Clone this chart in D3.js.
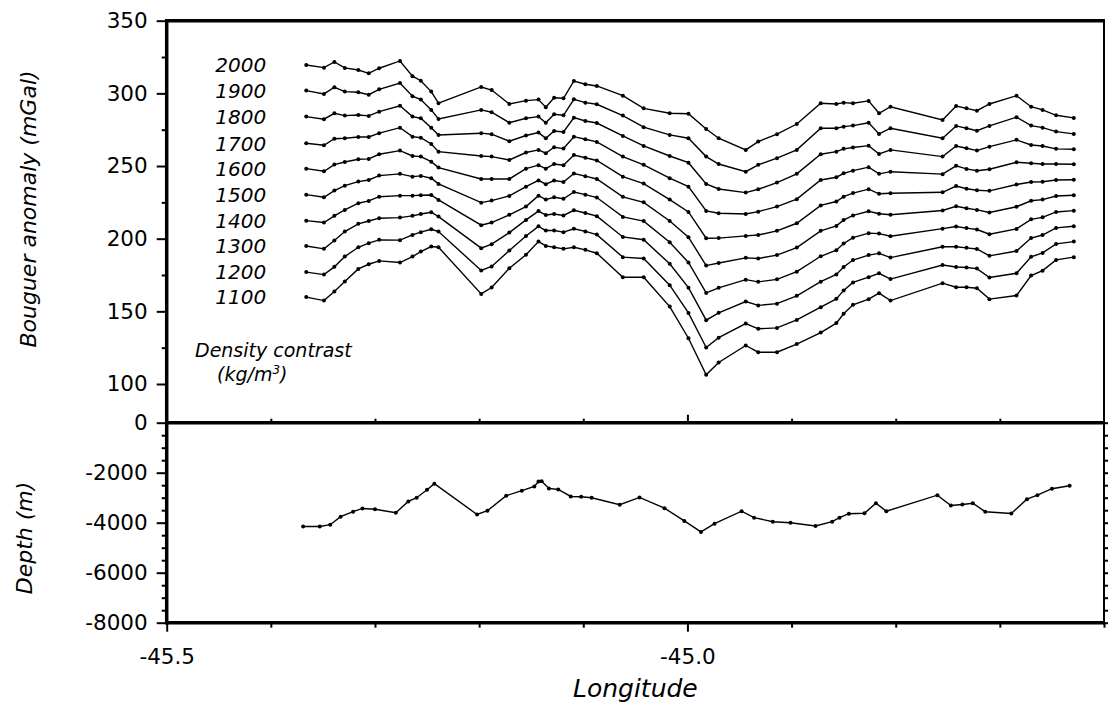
<!DOCTYPE html>
<html>
<head>
<meta charset="utf-8">
<script src="https://d3js.org/d3.v7.min.js"></script>
<style>
body { margin: 0; background: #fff; }
text { font-family: "DejaVu Sans", sans-serif; fill: #000; }
.tick line { stroke: #000; stroke-width: 2; }
</style>
</head>
<body>
<div id="chart"></div>
<script>
var width = 1108, height = 705;

// station longitudes of the gravity profiles
var lon = [-45.366, -45.349, -45.339, -45.329, -45.316, -45.306, -45.296, -45.276, -45.264, -45.256,
  -45.246, -45.239, -45.198, -45.188, -45.171, -45.155, -45.143, -45.136, -45.128, -45.119,
  -45.109, -45.098, -45.087, -45.062, -45.042, -45.017, -44.999, -44.982, -44.970, -44.944,
  -44.932, -44.914, -44.895, -44.872, -44.857, -44.850, -44.841, -44.826, -44.816, -44.805,
  -44.755, -44.742, -44.732, -44.722, -44.710, -44.684, -44.670, -44.659, -44.646, -44.629];

var ba2000 = [319.5, 317.7, 321.6, 317.5, 316.1, 313.8, 317.3, 322.3, 311.8, 308.7,
  301.2, 293.2, 304.4, 302.3, 292.7, 295.0, 295.7, 290.4, 297.0, 296.6,
  308.5, 306.3, 305.1, 298.4, 289.7, 286.3, 286.0, 275.5, 269.1, 261.1,
  266.8, 271.9, 278.9, 293.2, 292.7, 293.6, 293.2, 294.8, 286.3, 290.8,
  281.7, 291.3, 289.7, 288.1, 292.7, 298.4, 290.8, 288.6, 284.9, 283.1];
var ba1900 = [301.9, 299.6, 304.2, 301.2, 300.8, 299.1, 302.8, 307.1, 298.0, 295.7,
  288.6, 282.4, 288.6, 287.0, 279.8, 282.9, 284.0, 279.8, 285.6, 284.9,
  295.9, 293.6, 292.5, 284.7, 276.7, 271.4, 269.1, 256.5, 251.4, 246.1,
  250.8, 255.4, 261.1, 276.0, 276.0, 277.1, 277.8, 279.8, 272.1, 276.0,
  269.1, 277.6, 276.0, 274.3, 277.6, 283.6, 277.8, 276.4, 273.7, 272.1];
var ba1800 = [284.0, 282.2, 286.3, 284.7, 285.1, 284.5, 287.4, 291.5, 284.0, 282.9,
  276.4, 271.4, 272.6, 271.9, 267.1, 271.0, 273.0, 269.1, 274.1, 273.4,
  283.3, 281.0, 279.6, 270.7, 263.8, 256.9, 252.3, 237.7, 234.2, 231.7,
  234.0, 238.6, 244.6, 258.1, 259.9, 261.8, 262.7, 264.0, 258.3, 261.1,
  256.5, 263.8, 262.2, 260.6, 263.3, 268.0, 264.5, 263.8, 261.8, 261.5];
var ba1700 = [265.7, 264.3, 268.8, 269.1, 270.0, 270.0, 272.6, 276.4, 270.2, 269.5,
  265.2, 259.9, 256.9, 256.5, 254.2, 259.3, 261.1, 258.8, 262.9, 262.0,
  270.2, 268.4, 266.6, 256.5, 250.8, 241.6, 235.8, 219.1, 217.5, 217.0,
  218.6, 222.1, 227.2, 240.4, 242.3, 245.0, 246.8, 249.2, 244.6, 246.1,
  244.4, 250.1, 248.0, 246.8, 247.8, 252.6, 251.9, 251.4, 251.4, 251.2];
var ba1600 = [248.2, 246.4, 251.0, 252.8, 254.7, 254.9, 258.1, 260.6, 256.9, 256.5,
  253.0, 248.9, 241.1, 241.1, 241.1, 248.2, 250.6, 248.2, 251.4, 250.5,
  257.5, 255.7, 253.8, 242.7, 237.9, 226.9, 218.4, 200.3, 200.4, 201.9,
  202.5, 205.4, 210.6, 222.9, 225.6, 228.9, 231.4, 234.1, 230.9, 231.3,
  231.9, 236.2, 234.4, 233.3, 232.9, 237.3, 239.0, 239.2, 240.4, 240.6];
var ba1500 = [230.3, 228.5, 233.1, 236.5, 239.3, 240.4, 243.4, 244.6, 242.7, 243.2,
  241.6, 237.7, 224.8, 226.2, 229.4, 235.8, 240.1, 237.5, 240.0, 239.0,
  244.8, 243.0, 241.1, 228.8, 225.0, 212.2, 201.0, 181.5, 183.3, 186.8,
  186.4, 188.7, 193.9, 205.4, 208.8, 212.8, 216.0, 218.9, 217.2, 216.5,
  219.4, 222.3, 220.9, 219.8, 218.0, 222.0, 226.1, 226.9, 229.4, 229.9];
var ba1400 = [212.4, 211.1, 215.7, 219.8, 224.4, 226.0, 228.9, 229.6, 229.6, 229.9,
  230.1, 226.7, 209.3, 211.1, 216.4, 222.1, 229.6, 226.9, 228.5, 227.5,
  232.1, 230.3, 228.3, 215.0, 212.1, 197.5, 183.6, 162.7, 166.2, 171.8,
  170.3, 172.0, 177.3, 187.9, 192.1, 196.7, 200.7, 203.8, 203.5, 201.7,
  206.9, 208.4, 207.3, 206.3, 203.1, 206.7, 213.3, 214.7, 218.4, 219.3];
var ba1300 = [195.0, 193.0, 198.7, 204.9, 210.2, 212.2, 214.1, 214.5, 215.7, 217.0,
  218.2, 215.2, 193.5, 196.2, 204.2, 212.9, 219.0, 216.3, 217.0, 216.0,
  219.5, 217.7, 215.5, 201.2, 199.3, 182.7, 166.3, 143.9, 149.0, 156.7,
  154.1, 155.3, 160.7, 170.4, 175.4, 180.5, 185.3, 188.7, 189.9, 187.0,
  194.4, 194.4, 193.7, 192.9, 188.2, 191.5, 200.4, 202.5, 207.4, 208.6];
var ba1200 = [177.0, 175.3, 180.6, 187.7, 194.1, 196.9, 199.2, 199.0, 202.6, 204.5,
  206.5, 204.9, 178.1, 180.9, 191.8, 201.9, 208.5, 205.6, 205.6, 204.5,
  206.8, 205.0, 202.8, 187.3, 186.4, 168.0, 148.9, 125.1, 131.9, 141.6,
  138.0, 138.6, 144.1, 152.9, 158.6, 164.4, 169.9, 173.5, 176.2, 172.2,
  181.9, 180.5, 180.2, 179.4, 173.3, 176.2, 187.5, 190.2, 196.4, 198.0];
var ba1100 = [159.8, 157.4, 163.6, 170.5, 179.2, 182.4, 184.7, 183.6, 187.7, 191.1,
  194.6, 194.1, 162.0, 166.4, 179.7, 188.9, 198.0, 195.0, 194.1, 193.0,
  194.1, 192.3, 190.0, 173.5, 173.5, 153.3, 131.5, 106.3, 114.8, 126.5,
  121.9, 121.9, 127.5, 135.4, 141.9, 148.3, 154.5, 158.4, 162.5, 157.4,
  169.4, 166.6, 166.6, 165.9, 158.4, 160.9, 174.6, 178.0, 185.4, 187.3];

var densities = [2000, 1900, 1800, 1700, 1600, 1500, 1400, 1300, 1200, 1100];
var anomalies = [ba2000, ba1900, ba1800, ba1700, ba1600, ba1500, ba1400, ba1300, ba1200, ba1100];

// bathymetry profile
var depthLon = [-45.369, -45.353, -45.343, -45.333, -45.321, -45.312, -45.300, -45.280, -45.268, -45.260,
  -45.250, -45.243, -45.202, -45.192, -45.174, -45.159, -45.147, -45.143, -45.140, -45.133,
  -45.124, -45.112, -45.102, -45.092, -45.065, -45.046, -45.022, -45.003, -44.987, -44.974,
  -44.948, -44.936, -44.918, -44.901, -44.877, -44.861, -44.854, -44.845, -44.830, -44.819,
  -44.809, -44.760, -44.747, -44.736, -44.726, -44.714, -44.689, -44.674, -44.664, -44.650,
  -44.633];
var depth = [-4150, -4150, -4080, -3760, -3560, -3430, -3460, -3600, -3150, -3000,
  -2680, -2440, -3670, -3520, -2920, -2720, -2550, -2350, -2340, -2630,
  -2670, -2950, -2960, -3000, -3280, -2990, -3420, -3930, -4370, -4040,
  -3540, -3800, -3960, -4000, -4130, -3960, -3800, -3640, -3620, -3220,
  -3540, -2900, -3310, -3270, -3220, -3560, -3630, -3060, -2900, -2640,
  -2520];

// ticks
var baTicks = [100, 150, 200, 250, 300, 350];
var baMinor = [125, 175, 225, 275, 325];
var depthTicks = [0, -2000, -4000, -6000, -8000];
var depthMinor = [-500, -1000, -1500, -2500, -3000, -3500, -4500, -5000, -5500, -6500, -7000, -7500];
var lonTicks = [-45.5, -45.0];
var lonMinor = [-45.4, -45.3, -45.2, -45.1, -44.9, -44.8, -44.7];

var x = d3.scaleLinear().domain([-45.5, -44.6]).range([166.7, 1104]);
var yTop = d3.scaleLinear().domain([100, 350]).range([384, 20.7]);
var yBot = d3.scaleLinear().domain([-8000, 0]).range([622.7, 422.7]);

var left = x.range()[0], right = x.range()[1];
var top0 = yTop(350), mid = yBot(0), bot = yBot(-8000);

var svg = d3.select("#chart")
  .append("svg")
  .attr("width", width)
  .attr("height", height);

// plain hyphen for negative numbers, as in the original figure
function plain(d) { return String(d); }
function clean(g) { g.select(".domain").remove(); }

svg.append("g").attr("transform", "translate(" + left + ",0)")
  .call(d3.axisLeft(yTop).tickValues(baTicks).tickSize(10).tickPadding(9).tickFormat(plain))
  .call(clean);
svg.append("g").attr("transform", "translate(" + left + ",0)")
  .call(d3.axisLeft(yTop).tickValues(baMinor).tickSize(5).tickFormat(""))
  .call(clean);
svg.append("g").attr("transform", "translate(" + left + ",0)")
  .call(d3.axisLeft(yBot).tickValues(depthTicks).tickSize(10).tickPadding(9).tickFormat(plain))
  .call(clean);
svg.append("g").attr("transform", "translate(" + left + ",0)")
  .call(d3.axisLeft(yBot).tickValues(depthMinor).tickSize(5).tickFormat(""))
  .call(clean);
svg.append("g").attr("transform", "translate(" + right + ",0)")
  .call(d3.axisRight(yBot).tickValues(depthMinor.concat(depthTicks)).tickSize(5).tickFormat(""))
  .call(clean);

svg.append("g").attr("transform", "translate(0," + bot + ")")
  .call(d3.axisBottom(x).tickValues(lonTicks).tickSize(9).tickPadding(17)
    .tickFormat(function(d) { return d.toFixed(1); }))
  .call(clean);
svg.append("g").attr("transform", "translate(0," + bot + ")")
  .call(d3.axisBottom(x).tickValues(lonMinor.concat([-44.6])).tickSize(5).tickFormat(""))
  .call(clean);
svg.append("g").attr("transform", "translate(0," + mid + ")")
  .call(d3.axisTop(x).tickValues([-45.0]).tickSize(8).tickFormat(""))
  .call(clean);
svg.append("g").attr("transform", "translate(0," + mid + ")")
  .call(d3.axisTop(x).tickValues(lonMinor).tickSize(4).tickFormat(""))
  .call(clean);

svg.selectAll(".tick text")
  .style("font-family", "DejaVu Sans")
  .style("font-size", "21.5px");

// frame
var frame = svg.append("g").attr("stroke", "#000").attr("fill", "none");
frame.append("line").attr("x1", left).attr("x2", right).attr("y1", top0).attr("y2", top0).attr("stroke-width", 3.5);
frame.append("line").attr("x1", left).attr("x2", right).attr("y1", mid).attr("y2", mid).attr("stroke-width", 3.5);
frame.append("line").attr("x1", left).attr("x2", right).attr("y1", bot).attr("y2", bot).attr("stroke-width", 3.5);
frame.append("line").attr("x1", left).attr("x2", left).attr("y1", top0 - 1.7).attr("y2", bot + 1.7).attr("stroke-width", 3.5);
frame.append("line").attr("x1", right).attr("x2", right).attr("y1", top0 - 1.7).attr("y2", bot + 1.7).attr("stroke-width", 2);

// gravity profiles
var line = d3.line()
  .x(function(d) { return x(d[0]); })
  .y(function(d) { return yTop(d[1]); });

var profiles = densities.map(function(rho, i) {
  return { rho: rho, points: lon.map(function(l, j) { return [l, anomalies[i][j]]; }) };
});

var prof = svg.append("g").selectAll("g")
  .data(profiles)
  .enter().append("g");

prof.append("path")
  .attr("d", function(d) { return line(d.points); })
  .attr("fill", "none")
  .attr("stroke", "#000")
  .attr("stroke-width", 1.4);

prof.selectAll("circle")
  .data(function(d) { return d.points; })
  .enter().append("circle")
  .attr("cx", function(d) { return x(d[0]); })
  .attr("cy", function(d) { return yTop(d[1]); })
  .attr("r", 2);

prof.append("text")
  .attr("x", function(d) { return x(d.points[0][0]) - 40; })
  .attr("y", function(d) { return yTop(d.points[0][1]) + 7.3; })
  .attr("text-anchor", "end")
  .style("font-size", "20px")
  .style("font-style", "italic")
  .text(function(d) { return d.rho; });

// bathymetry
var depthPts = depthLon.map(function(l, j) { return [l, depth[j]]; });
var dline = d3.line()
  .x(function(d) { return x(d[0]); })
  .y(function(d) { return yBot(d[1]); });

svg.append("path")
  .attr("d", dline(depthPts))
  .attr("fill", "none")
  .attr("stroke", "#000")
  .attr("stroke-width", 1.4);

svg.append("g").selectAll("circle")
  .data(depthPts)
  .enter().append("circle")
  .attr("cx", function(d) { return x(d[0]); })
  .attr("cy", function(d) { return yBot(d[1]); })
  .attr("r", 2);

// labels
svg.append("text")
  .attr("x", 195).attr("y", 356.5)
  .style("font-size", "19px").style("font-style", "italic")
  .text("Density contrast");
var unit = svg.append("text")
  .attr("x", 217).attr("y", 380.5)
  .style("font-size", "19px").style("font-style", "italic");
unit.append("tspan").text("(kg/m");
unit.append("tspan").attr("dy", -7).style("font-size", "12px").text("3");
unit.append("tspan").attr("dy", 7).text(")");

svg.append("text")
  .attr("transform", "translate(36,209) rotate(-90)")
  .attr("text-anchor", "middle")
  .style("font-size", "22px").style("font-style", "italic")
  .text("Bouguer anomaly (mGal)");

svg.append("text")
  .attr("transform", "translate(32,538) rotate(-90)")
  .attr("text-anchor", "middle")
  .style("font-size", "22px").style("font-style", "italic")
  .text("Depth (m)");

svg.append("text")
  .attr("x", (left + right) / 2).attr("y", 697)
  .attr("text-anchor", "middle")
  .style("font-size", "25px").style("font-style", "italic")
  .text("Longitude");
</script>
</body>
</html>
